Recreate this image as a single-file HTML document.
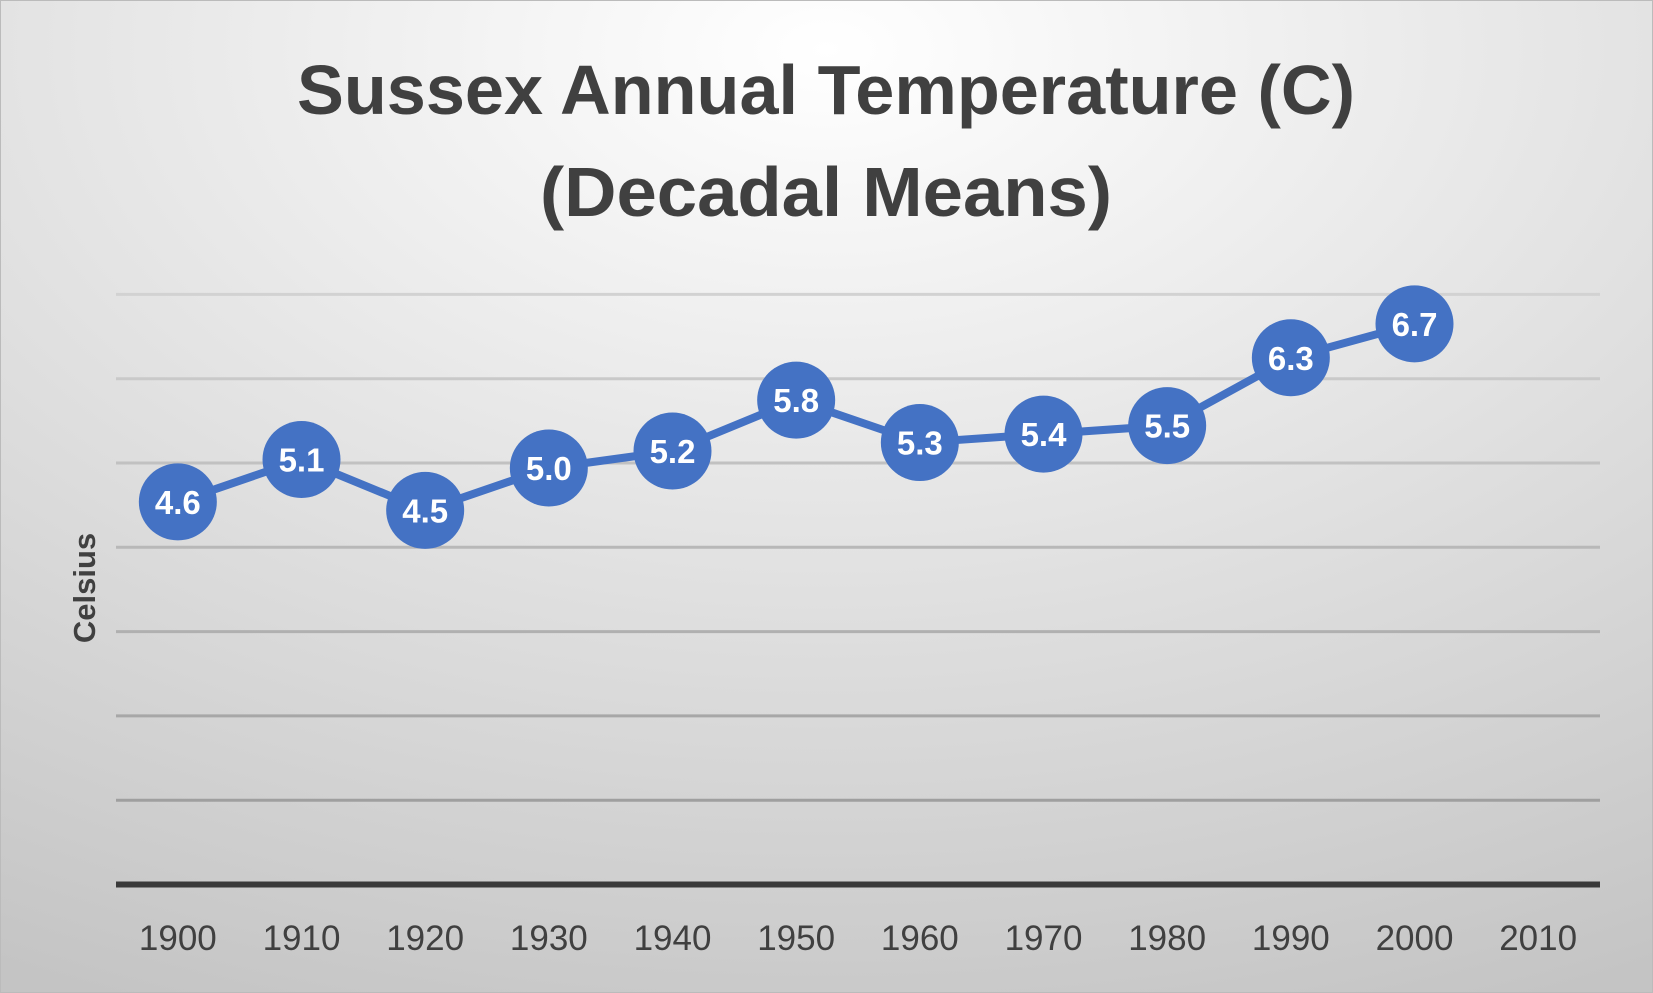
<!DOCTYPE html>
<html><head><meta charset="utf-8"><style>
html,body{margin:0;padding:0;width:1653px;height:993px;overflow:hidden}
svg{display:block;font-family:"Liberation Sans",sans-serif}
</style></head><body>
<svg width="1653" height="993" viewBox="0 0 1653 993">
<defs>
<radialGradient id="bg" cx="0.5" cy="0.05" r="1.05" gradientUnits="objectBoundingBox">
<stop offset="0" stop-color="#ffffff"/><stop offset="1" stop-color="#c4c4c4"/>
</radialGradient>
</defs>
<rect x="0" y="0" width="1653" height="993" fill="url(#bg)"/>
<rect x="0.5" y="0.5" width="1652" height="992" fill="none" stroke="#bbbbbb"/>
<text x="826" y="114" text-anchor="middle" font-size="70" font-weight="bold" fill="#404040" textLength="1058" lengthAdjust="spacingAndGlyphs">Sussex Annual Temperature (C)</text>
<text x="826" y="216" text-anchor="middle" font-size="70" font-weight="bold" fill="#404040" textLength="572" lengthAdjust="spacingAndGlyphs">(Decadal Means)</text>
<text transform="translate(95,588) rotate(-90)" text-anchor="middle" font-size="31" font-weight="bold" fill="#404040">Celsius</text>
<g id="grid"></g>
<g id="xlabels"></g>
<g id="series"></g>
</svg>
<script>
const categories = ["1900","1910","1920","1930","1940","1950","1960","1970","1980","1990","2000","2010"];
const values = [4.6,5.1,4.5,5.0,5.2,5.8,5.3,5.4,5.5,6.3,6.7,null];
const labels = ["4.6","5.1","4.5","5.0","5.2","5.8","5.3","5.4","5.5","6.3","6.7",""];
const gridValues = [1,2,3,4,5,6,7];

const NS="http://www.w3.org/2000/svg";
const left=116,right=1600,y0=884.5,unit=84.3;
const step=(right-left)/categories.length;
function xs(i){return left+step*(i+0.5);}
function ys(v){return y0-v*unit;}
function yp(v){return 892-v*84.8;}
function mk(tag,attrs,parent){const e=document.createElementNS(NS,tag);for(const k in attrs)e.setAttribute(k,attrs[k]);parent.appendChild(e);return e;}

const grid=document.getElementById('grid');
gridValues.forEach(v=>{
  const shade=Math.round(150+ (v/7)*60);
  const l=mk('line',{x1:left,x2:right,y1:ys(v),y2:ys(v),stroke:`rgb(${shade},${shade},${shade})`,'stroke-width':3},grid);
  
  
});
const ax=mk('line',{x1:left,x2:right,y1:y0,y2:y0,stroke:'#3a3a3a','stroke-width':6},grid);



const xl=document.getElementById('xlabels');
categories.forEach((c,i)=>{
  const t=mk('text',{x:xs(i),y:950,'text-anchor':'middle','font-size':35,fill:'#404040'},xl);
  t.textContent=c;
  
  
});

const s=document.getElementById('series');
let pts=[];
values.forEach((v,i)=>{if(v!==null)pts.push(xs(i)+','+yp(v));});
const pl=mk('polyline',{points:pts.join(' '),fill:'none',stroke:'#4472C4','stroke-width':8,'stroke-linejoin':'round'},s);


values.forEach((v,i)=>{
  if(v===null)return;
  const c=mk('ellipse',{cx:xs(i),cy:yp(v),rx:39,ry:38.5,fill:'#4472C4'},s);
  
  
  const t=mk('text',{x:xs(i),y:yp(v)+12,'text-anchor':'middle','font-size':33,'font-weight':'bold',fill:'#ffffff'},s);
  t.textContent=labels[i];
  
  
});
</script>
</body></html>
